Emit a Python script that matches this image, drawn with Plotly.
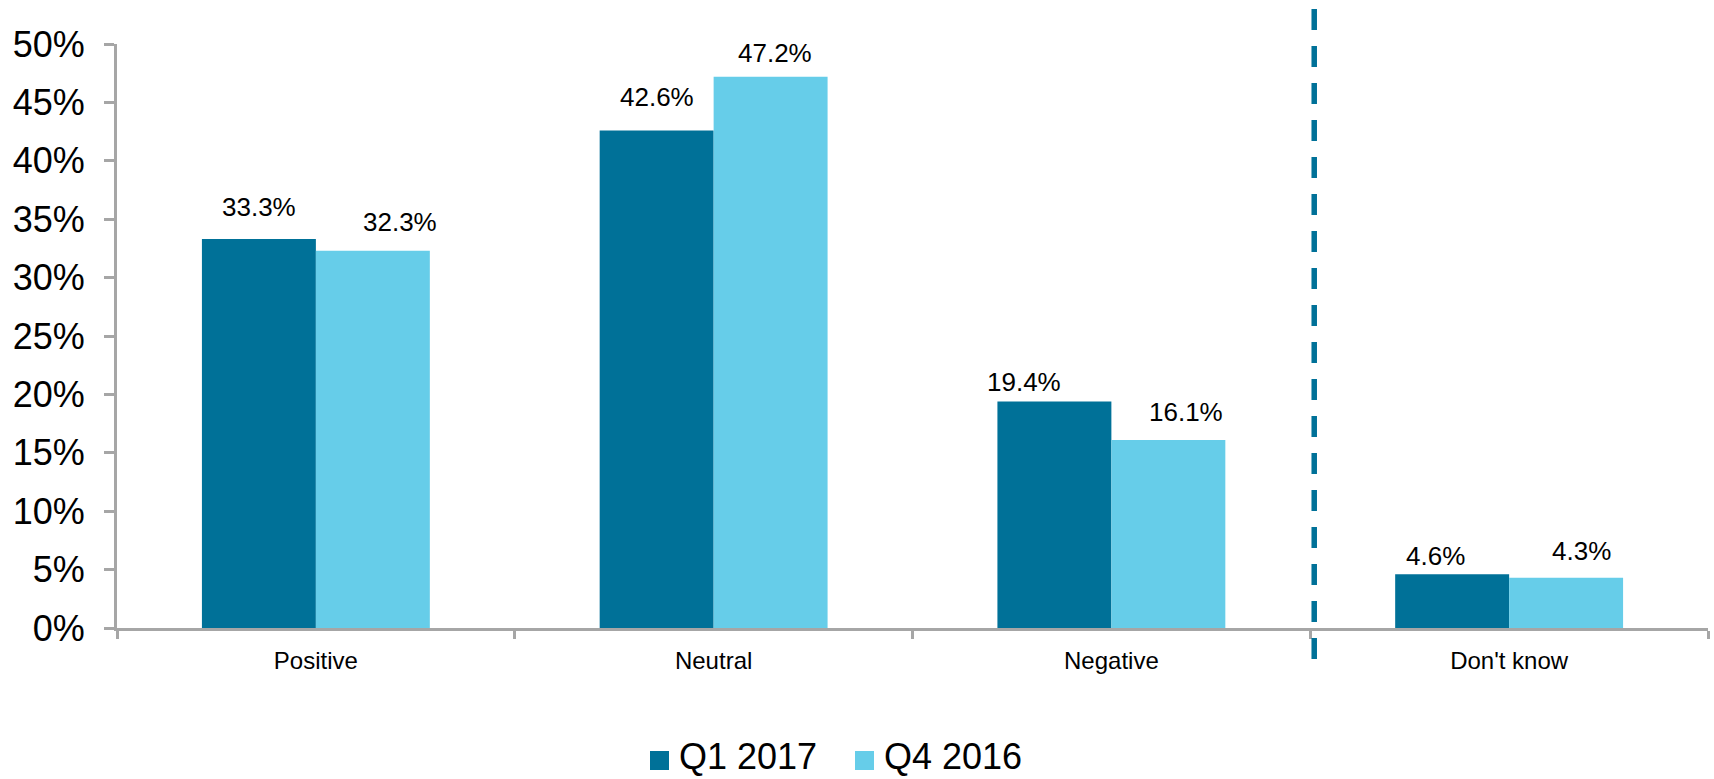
import plotly.graph_objects as go

# Survey responses by sentiment, two quarters compared
categories = ["Positive", "Neutral", "Negative", "Don't know"]
q1_2017 = [33.3, 42.6, 19.4, 4.6]
q4_2016 = [32.3, 47.2, 16.1, 4.3]
series_names = ["Q1 2017", "Q4 2016"]
y_ticks = [0, 5, 10, 15, 20, 25, 30, 35, 40, 45, 50]

DARK = "#007198"
LIGHT = "#66CDE9"
AXIS = "#A6A6A6"
FONT = "Arial, Liberation Sans, sans-serif"

W, H = 1714, 779
ML, MR, MT, MB = 117, 6, 44, 151
PW, PH = W - ML - MR, H - MT - MB


def px_x(px):
    return (px - ML) / PW


def px_y(py):
    return (H - MB - py) / PH


# pixel nudges (dx, dy) for each value label, per series
q1_nudge = [(0, 17), (0, 18), (-30, 4), (-17, 3)]
q4_nudge = [(27, 14), (4, 9), (18, 13), (15, 12)]

fig = go.Figure()
for name, vals, col in [(series_names[0], q1_2017, DARK), (series_names[1], q4_2016, LIGHT)]:
    fig.add_trace(go.Bar(
        x=categories, y=vals, name=name, marker=dict(color=col, line=dict(width=0)),
        showlegend=False, hoverinfo="skip",
    ))

# value labels above the bars
for i, cat in enumerate(categories):
    for vals, nudge, offset in [(q1_2017, q1_nudge, -0.5), (q4_2016, q4_nudge, 0.5)]:
        dx, dy = nudge[i]
        fig.add_annotation(
            x=i, y=vals[i], xref="x", yref="y", text=f"{vals[i]:.1f}%",
            showarrow=False, xanchor="center", yanchor="bottom",
            xshift=offset * 114 + dx, yshift=dy - 2,
            font=dict(family=FONT, size=26, color="#000000"),
        )

# separator before "Don't know"
fig.add_shape(
    type="line", xref="x", yref="paper", x0=2.51, x1=2.51, y0=px_y(9), y1=px_y(665),
    line=dict(color=DARK, width=5.5, dash="21px,16px"),
)

# legend row under the axis: swatch + series name
legend_x = [650, 855]
for name, col, lx in zip(series_names, [DARK, LIGHT], legend_x):
    fig.add_shape(
        type="rect", xref="paper", yref="paper",
        x0=px_x(lx), x1=px_x(lx + 19), y0=px_y(770), y1=px_y(751),
        fillcolor=col, line=dict(width=0),
    )
    fig.add_annotation(
        x=px_x(lx + 27), y=px_y(756), xref="paper", yref="paper",
        text=name, showarrow=False, xanchor="left", yanchor="middle",
        font=dict(family=FONT, size=36, color="#000000"),
    )

fig.update_layout(
    width=W, height=H,
    margin=dict(l=ML, r=MR, t=MT, b=MB, autoexpand=False),
    paper_bgcolor="white", plot_bgcolor="white",
    barmode="group", bargap=0.427, bargroupgap=0,
    font=dict(family=FONT, color="#000000"),
    showlegend=False,
)
fig.update_xaxes(
    type="category", range=[-0.5, 3.5],
    showline=True, linecolor=AXIS, linewidth=3,
    ticks="outside", tickson="boundaries", ticklen=8, tickwidth=3, tickcolor=AXIS,
    ticklabelstandoff=9,
    tickfont=dict(family=FONT, size=24, color="#000000"),
    showgrid=False, zeroline=False,
)
fig.update_yaxes(
    range=[0, 50], tickvals=y_ticks, ticktext=[f"{v}%" for v in y_ticks],
    showline=True, linecolor=AXIS, linewidth=3,
    ticks="outside", ticklen=10, tickwidth=3, tickcolor=AXIS,
    ticklabelstandoff=12,
    tickfont=dict(family=FONT, size=36, color="#000000"),
    showgrid=False, zeroline=False,
)

fig.write_html("out.html")
